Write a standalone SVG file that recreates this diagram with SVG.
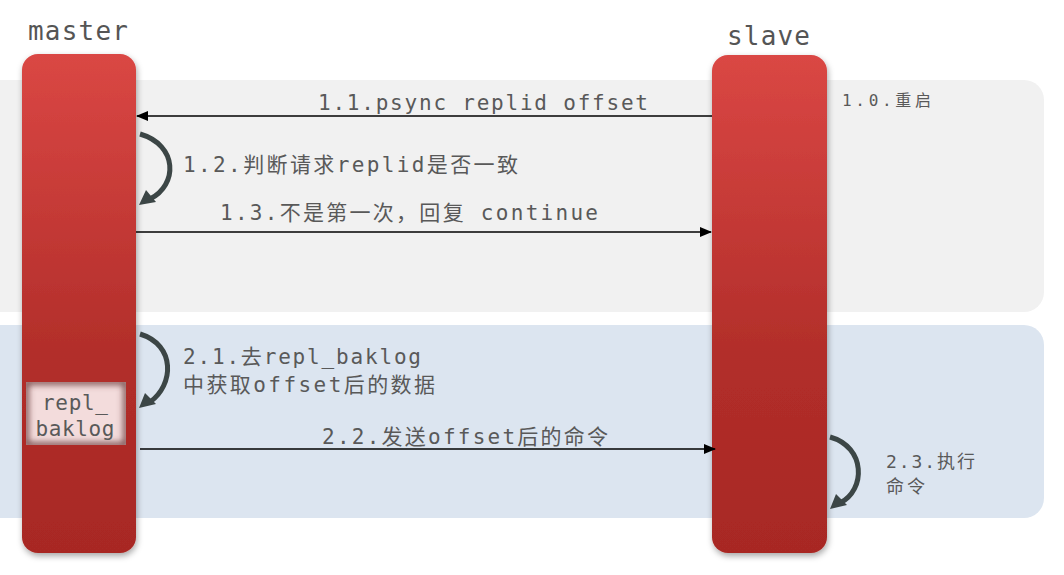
<svg xmlns="http://www.w3.org/2000/svg" width="1064" height="575" viewBox="0 0 1064 575">
<defs>
<style>
.t{font-family:"DejaVu Sans Mono","Noto Sans CJK SC",monospace;fill:#595959;font-size:21px}
.h{font-family:"DejaVu Sans Mono",monospace;fill:#555;font-size:26px}
.ln{stroke:#000;stroke-width:1.5;fill:none}
.cv{stroke:#3c4646;stroke-width:5;fill:none}
.bar{fill:url(#bg)}
</style>
<linearGradient id="bg" x1="0" y1="0" x2="0" y2="1">
<stop offset="0" stop-color="#da4744"/>
<stop offset="0.6" stop-color="#b22e2a"/>
<stop offset="1" stop-color="#a82824"/>
</linearGradient>
<filter id="sh" x="-20%" y="-10%" width="140%" height="120%">
<feDropShadow dx="1" dy="3" stdDeviation="3" flood-color="#000" flood-opacity="0.35"/>
</filter>
<filter id="blur"><feGaussianBlur stdDeviation="3"/></filter>
<clipPath id="bc"><rect x="26" y="382" width="100" height="63"/></clipPath>
<marker id="ah" markerWidth="12" markerHeight="10" refX="11" refY="5" orient="auto" markerUnits="userSpaceOnUse">
<path d="M0,0 L12,5 L0,10 Z" fill="#000"/>
</marker>
</defs>
<rect x="-30" y="80" width="1074" height="232" rx="20" fill="#f1f1f1"/>
<rect x="-30" y="325" width="1074" height="193" rx="20" fill="#dce5f0"/>
<g id="master">
<text class="h" x="28" y="40" textLength="100">master</text>
<rect class="bar" x="22" y="54" width="114" height="499" rx="16" filter="url(#sh)"/>
</g>
<g id="slave">
<text class="h" x="727" y="45" textLength="83">slave</text>
<rect class="bar" x="712" y="55" width="115" height="498" rx="16" filter="url(#sh)"/>
</g>
<g id="repl_baklog">
<rect x="26" y="382" width="100" height="63" fill="#f3dcdc"/>
<g clip-path="url(#bc)"><rect x="26" y="382" width="100" height="63" fill="none" stroke="#6b3a3a" stroke-width="5" filter="url(#blur)"/></g>
<text class="t" x="75" y="410" text-anchor="middle" textLength="66">repl_</text>
<text class="t" x="75" y="436" text-anchor="middle" textLength="79">baklog</text>
</g>
<g id="connectors">
<line class="ln" x1="712" y1="116" x2="137" y2="116" marker-end="url(#ah)"/>
<line class="ln" x1="136" y1="232" x2="711" y2="232" marker-end="url(#ah)"/>
<line class="ln" x1="140" y1="449" x2="715" y2="449" marker-end="url(#ah)"/>
<path class="cv" d="M140,134 C178,145 178,185 150,199"/>
<path d="M139,205 L146,190 L156,202 Z" fill="#3c4646"/>
<path class="cv" d="M140,334 C176,345 174,385 150,402"/>
<path d="M139,408 L145,393 L156,404 Z" fill="#3c4646"/>
<path class="cv" d="M830,437 C866,447 866,490 840,503"/>
<path d="M830,509 L836,494 L847,505 Z" fill="#3c4646"/>
</g>
<g id="labels">
<text class="t" x="318" y="110" textLength="330">1.1.psync replid offset</text>
<text class="t" x="183" y="172" textLength="335">1.2.判断请求replid是否一致</text>
<text class="t" x="220" y="220" textLength="378">1.3.不是第一次，回复 continue</text>
<text class="t" x="842" y="106" style="font-size:16px" textLength="89">1.0.重启</text>
<text class="t" x="183" y="364" textLength="238">2.1.去repl_baklog</text>
<text class="t" x="183" y="392" textLength="252">中获取offset后的数据</text>
<text class="t" x="322" y="444" textLength="286">2.2.发送offset后的命令</text>
<text class="t" x="886" y="468" style="font-size:18px" textLength="89">2.3.执行</text>
<text class="t" x="886" y="493" style="font-size:18px" textLength="39">命令</text>
</g>
</svg>
